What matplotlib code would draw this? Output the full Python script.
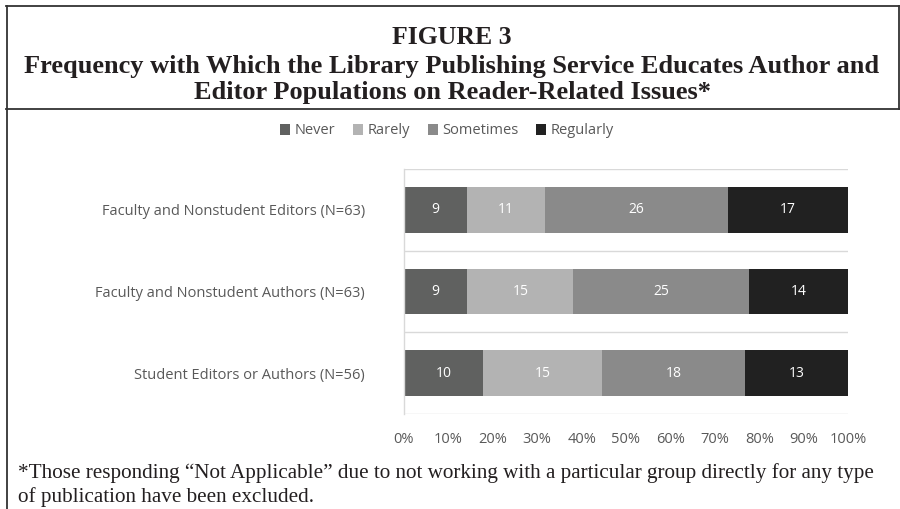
import matplotlib
matplotlib.use("Agg")
import matplotlib.pyplot as plt
from matplotlib.lines import Line2D
from matplotlib.ticker import FixedLocator, PercentFormatter
import numpy as np

categories = ["Faculty and Nonstudent Editors (N=63)",
              "Faculty and Nonstudent Authors (N=63)",
              "Student Editors or Authors (N=56)"]
series_names = ["Never", "Rarely", "Sometimes", "Regularly"]
never = [9, 9, 10]
rarely = [11, 15, 15]
sometimes = [26, 25, 18]
regularly = [17, 14, 13]
colors = ["#606160", "#b3b3b3", "#8a8a8a", "#212121"]
xticks = [0, 0.1, 0.2, 0.3, 0.4, 0.5, 0.6, 0.7, 0.8, 0.9, 1.0]

W, H = 900, 509
fig = plt.figure(figsize=(9, 5.09), dpi=100)
fig.patch.set_facecolor("white")

def fx(px):
    return px / W

def fy(py):
    return 1 - py / H

# Frame lines
lc = "#333333"
fig.add_artist(Line2D([fx(6), fx(899)], [fy(6), fy(6)], color=lc, lw=1.3))
fig.add_artist(Line2D([fx(6), fx(900)], [fy(109), fy(109)], color=lc, lw=1.3))
fig.add_artist(Line2D([fx(7), fx(7)], [fy(6), fy(509)], color=lc, lw=1.3))
fig.add_artist(Line2D([fx(898.5), fx(898.5)], [fy(6), fy(109)], color=lc, lw=1.3))

# Title
tfont = dict(family="Liberation Serif", weight="bold", color="#231f20", ha="center", va="center")
fig.text(fx(452), fy(38), "FIGURE 3", fontsize=18.5, **tfont)
fig.text(fx(452), fy(66), "Frequency with Which the Library Publishing Service Educates Author and", fontsize=19, **tfont)
fig.text(fx(452), fy(93), "Editor Populations on Reader-Related Issues*", fontsize=19, **tfont)

# Footnote
ffont = dict(family="Liberation Serif", color="#231f20", ha="left", va="center", fontsize=15.2)
fig.text(fx(18), fy(473), "*Those responding \u201cNot Applicable\u201d due to not working with a particular group directly for any type", **ffont)
fig.text(fx(18), fy(497), "of publication have been excluded.", **ffont)

ax = fig.add_axes([fx(404), fy(414), fx(848) - fx(404), (414 - 169) / H])
data = np.array([never, rarely, sometimes, regularly], dtype=float)
totals = data.sum(axis=0)
shares = data / totals
y = np.arange(len(categories))
left = np.zeros(len(categories))
handles = []
for i, name in enumerate(series_names):
    b = ax.barh(y, shares[i], left=left, height=0.56, color=colors[i], label=name)
    handles.append(b)
    for j in range(len(categories)):
        ax.text(left[j] + shares[i][j] / 2, y[j], f"{int(data[i][j])}",
                ha="center", va="center", color="white", fontsize=10, family="Open Sans")
    left += shares[i]

ax.set_xlim(0, 1)
ax.set_ylim(2.5, -0.5)
ax.set_yticks(y)
ax.set_yticklabels(categories, fontsize=10.5, color="#595959", family="Open Sans")
ax.yaxis.set_minor_locator(FixedLocator([-0.5, 0.5, 1.5, 2.5]))
ax.grid(True, which="minor", axis="y", color="#d9d9d9", lw=1)
ax.set_axisbelow(True)
ax.tick_params(axis="y", which="both", length=0, pad=28)
ax.set_xticks(xticks)
ax.xaxis.set_major_formatter(PercentFormatter(1.0, decimals=0))
ax.tick_params(axis="x", length=0, labelsize=10.5, labelcolor="#595959", pad=13)
for lab in ax.get_xticklabels():
    lab.set_family("Open Sans")
for s in ["top", "right", "bottom"]:
    ax.spines[s].set_visible(False)
ax.spines["left"].set_color("#d9d9d9")
ax.spines["left"].set_linewidth(1)

leg = fig.legend(handles=handles, labels=series_names, loc="center", bbox_to_anchor=(fx(447), fy(131)),
                 ncol=4, frameon=False, handlelength=0.7, handleheight=0.7, handletextpad=0.3,
                 columnspacing=1.2, prop=dict(family="Open Sans", size=10.5))
for t in leg.get_texts():
    t.set_color("#595959")

fig.savefig("out.png", dpi=100)
